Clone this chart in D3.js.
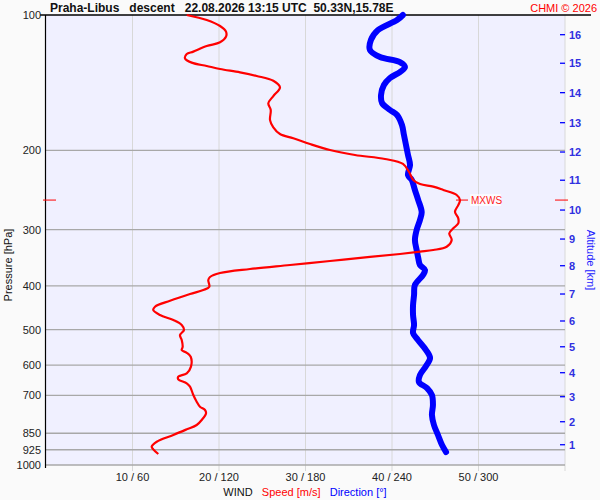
<!DOCTYPE html>
<html><head><meta charset="utf-8">
<script src="https://cdn.jsdelivr.net/npm/d3@7"></script>
<style>
html,body{margin:0;padding:0;background:#fafafa;}
svg{display:block;font-family:"Liberation Sans",Arial,sans-serif;}
text{white-space:pre;}
</style></head><body>
<svg id="c" width="600" height="500"></svg>
<script>
const pressureTicks = [200,300,400,500,600,700,850,925,1000];
const pressureLabels = ["100","200","300","400","500","600","700","850","925","1000"];
const speedTicks = [10,20,30,40,50];
const dirTicks = [60,120,180,240,300];
const altKm = [1,2,3,4,5,6,7,8,9,10,11,12,13,14,15,16];
const altPressure = [901.5,801.4,705.1,623.6,546.1,478.6,416.9,360.7,314.7,271.3,232.9,201.6,173.5,148.8,128.0,110.6];

const speedP = [100,102.6,105.8,108.9,111.7,115.0,117.2,120.6,122.1,124.8,127.6,129.8,131.8,134.1,136.6,140.0,144.8,151.4,157.1,162.6,171.2,177.7,183.9,187.9,193.5,199.5,204.7,208.9,214.3,223.3,232.6,237.4,240.7,244.8,251.2,257.8,264.5,273.7,283.1,290.4,297.9,305.6,316.2,327.3,332.9,335.7,339.7,344.9,352.1,359.4,366.8,374.5,382.2,388.2,401.7,408.5,416.9,431.5,444.9,452.5,464.2,476.2,488.5,501.2,514.2,527.5,546.1,555.4,563.1,574.7,604.6,625.6,636.6,645.2,658.4,669.9,698.9,723.3,742.0,754.8,767.6,794.3,814.9,833.1,857.7,887.7,910.7,922.9,945.4];
const speedV = [16.27,18.58,20.12,20.81,20.81,20.12,18.58,17.03,16.27,16.07,16.84,18.58,20.12,22.43,24.36,26.28,27.05,26.28,25.70,25.98,25.90,26.28,27.05,28.59,30.52,32.83,35.72,39.19,41.27,41.97,42.46,43.24,44.77,45.93,47.48,47.86,47.66,47.28,47.66,47.66,47.09,46.62,46.90,46.32,44.77,43.24,40.92,37.46,32.83,28.21,23.58,20.12,18.96,18.76,18.88,18.18,16.65,14.34,12.60,12.40,13.18,14.72,15.69,15.95,15.49,15.69,15.80,15.69,16.27,16.73,16.76,16.27,15.29,15.29,16.27,16.65,17.03,17.42,17.80,18.38,18.50,18.00,17.42,16.27,14.72,12.80,12.22,12.40,12.98];

const dirP = [100,102.6,108.0,113.6,119.6,124.0,127.2,130.5,133.9,138.0,143.1,150.6,156.9,162.6,166.8,175.6,184.8,194.5,204.7,215.4,226.8,232.6,244.8,257.8,274.1,285.4,300.4,316.2,332.9,346.7,359.4,368.7,378.3,398.1,419.0,441.0,464.2,488.5,509.0,527.5,555.4,578.3,602.6,631.0,654.1,674.5,698.9,735.6,774.3,814.9,857.7,902.9,935.8];
const dirV = [247.6,243.5,230.3,225.4,224.7,231.7,245.5,249.0,245.5,238.6,234.4,232.4,233.1,238.6,243.5,246.9,248.3,249.7,251.1,252.5,251.1,253.7,255.9,258.2,260.6,259.4,257.1,255.9,257.1,258.2,259.4,262.9,261.5,255.9,255.3,254.6,254.6,255.3,254.6,258.0,263.6,266.4,263.6,259.4,258.7,264.3,267.7,268.4,267.7,269.1,271.9,274.7,277.5];

const svg = d3.select("#c");
const L=46, R=565, T=15, B=465;
const y = d3.scaleLog().domain([100,1000]).range([T,B]);
const xs = d3.scaleLinear().domain([0,60]).range([L,R]);
const xd = d3.scaleLinear().domain([0,360]).range([L,R]);

// plot background
svg.append("rect").attr("x",L).attr("y",T).attr("width",R-L).attr("height",B-T).attr("fill","#f0f0ff");

// vertical gridlines
svg.selectAll(".vg").data(speedTicks).enter().append("line")
  .attr("x1",d=>xs(d)).attr("x2",d=>xs(d)).attr("y1",T).attr("y2",B+6)
  .attr("stroke","#d8d8d8").attr("stroke-width",1);
svg.append("line").attr("x1",xs(60)).attr("x2",xs(60)).attr("y1",T).attr("y2",B+6)
  .attr("stroke","#d8d8d8").attr("stroke-width",1);

// horizontal gridlines
svg.selectAll(".hg").data(pressureTicks).enter().append("line")
  .attr("x1",L-1).attr("x2",R).attr("y1",d=>y(d)).attr("y2",d=>y(d))
  .attr("stroke","#a8a8a8").attr("stroke-width",1.3);

// axes lines
svg.append("line").attr("x1",40).attr("x2",591).attr("y1",T).attr("y2",T).attr("stroke","#000").attr("stroke-width",1.5);
svg.append("line").attr("x1",45.5).attr("x2",45.5).attr("y1",T).attr("y2",B+3).attr("stroke","#000").attr("stroke-width",1.2);

// pressure labels
const pAll = [100].concat(pressureTicks);
svg.selectAll(".pl").data(pAll).enter().append("text")
  .attr("x",41).attr("y",d=>y(d)+4).attr("text-anchor","end")
  .attr("font-size",11).attr("fill","#222").text((d,i)=>pressureLabels[i]);

svg.append("text").attr("transform","translate(12,"+((T+B)/2+25)+") rotate(-90)")
  .attr("text-anchor","middle").attr("font-size",11).attr("fill","#111").text("Pressure [hPa]");

// altitude axis
svg.selectAll(".at").data(altKm).enter().append("line")
  .attr("x1",R-5).attr("x2",R).attr("y1",(d,i)=>y(altPressure[i])).attr("y2",(d,i)=>y(altPressure[i]))
  .attr("stroke","#0000ff").attr("stroke-width",1.3);
svg.selectAll(".al").data(altKm).enter().append("text")
  .attr("x",R+4).attr("y",(d,i)=>y(altPressure[i])+4)
  .attr("font-size",11).attr("font-weight","bold").attr("fill","#3030e0").text(d=>d);
svg.append("text").attr("transform","translate(587,"+((T+B)/2+20)+") rotate(90)")
  .attr("text-anchor","middle").attr("font-size",11).attr("fill","#2020ff").text("Altitude [km]");

// bottom labels
svg.selectAll(".bl").data(speedTicks).enter().append("text")
  .attr("x",d=>xs(d)).attr("y",481).attr("text-anchor","middle")
  .attr("font-size",11).attr("fill","#222").text((d,i)=>d+" / "+dirTicks[i]);
const leg = svg.append("text").attr("x",305).attr("y",496).attr("text-anchor","middle").attr("font-size",11);
leg.append("tspan").attr("fill","#111").text("WIND   ");
leg.append("tspan").attr("fill","#ff0000").text("Speed [m/s]   ");
leg.append("tspan").attr("fill","#0000ff").text("Direction [°]");

// direction line
const dirData = dirP.map((p,i)=>({p, v:dirV[i]}));
svg.append("path").datum(dirData)
  .attr("d", d3.line().x(d=>xd(d.v)).y(d=>y(d.p)).curve(d3.curveCatmullRom))
  .attr("fill","none").attr("stroke","#0000ff").attr("stroke-width",6).attr("stroke-linejoin","round").attr("stroke-linecap","round");

// speed line
const spData = speedP.map((p,i)=>({p, v:speedV[i]}));
svg.append("path").datum(spData)
  .attr("d", d3.line().x(d=>xs(d.v)).y(d=>y(d.p)).curve(d3.curveCatmullRom))
  .attr("fill","none").attr("stroke","#ff0000").attr("stroke-width",2.2).attr("stroke-linejoin","round");

// MXWS
const mi = d3.maxIndex(speedV);
const my = y(speedP[mi]);
svg.append("line").attr("x1",xs(speedV[mi])-4).attr("x2",xs(speedV[mi])+8).attr("y1",my).attr("y2",my).attr("stroke","#ff0000").attr("stroke-width",1);
svg.append("rect").attr("x",xs(speedV[mi])+10).attr("y",my-6).attr("width",31).attr("height",12).attr("fill","#ffffff").attr("opacity",0.7);
svg.append("text").attr("x",xs(speedV[mi])+11).attr("y",my+4).attr("font-size",10).attr("fill","#ff2020").text("MXWS");
svg.append("line").attr("x1",43).attr("x2",56).attr("y1",my).attr("y2",my).attr("stroke","#ff0000").attr("stroke-width",1);
svg.append("line").attr("x1",R-10).attr("x2",R+3).attr("y1",my).attr("y2",my).attr("stroke","#ff0000").attr("stroke-width",1);

// title
svg.append("text").attr("x",50).attr("y",12).attr("font-size",12).attr("font-weight","bold").attr("fill","#111")
  .text("Praha-Libus   descent   22.08.2026 13:15 UTC  50.33N,15.78E");
svg.append("text").attr("x",597).attr("y",12).attr("text-anchor","end").attr("font-size",11).attr("fill","#ff0000")
  .text("CHMI © 2026");
</script>
</body></html>
